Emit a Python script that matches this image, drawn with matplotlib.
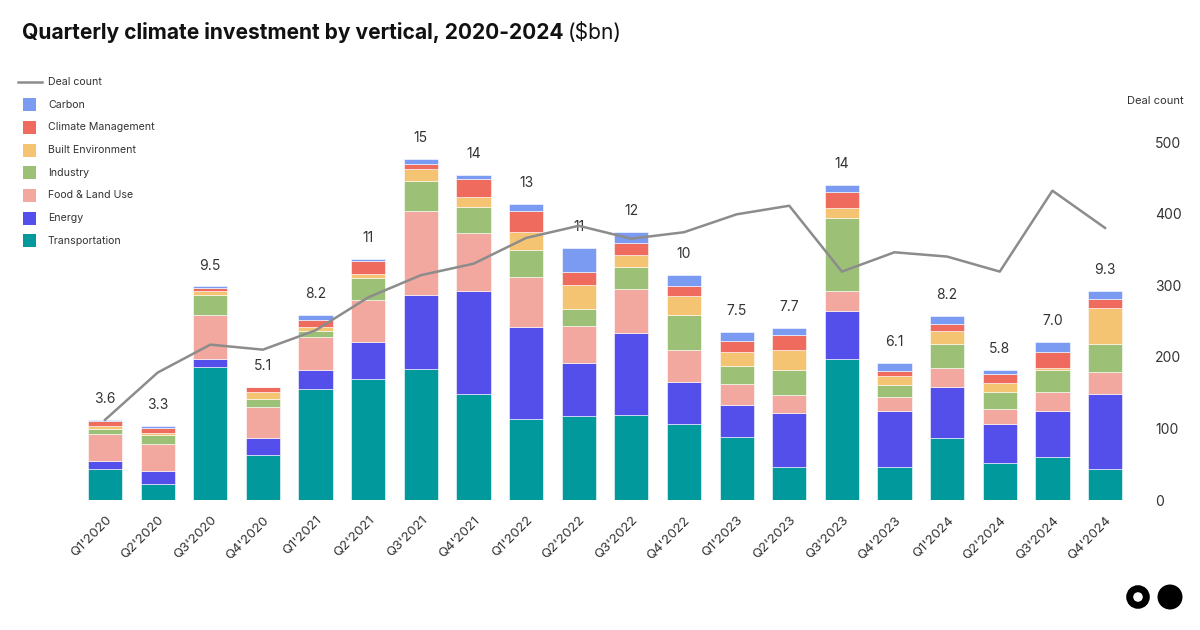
import matplotlib
matplotlib.use("Agg")
import matplotlib.pyplot as plt
from matplotlib.patches import Rectangle, Circle
from matplotlib.lines import Line2D

plt.rcParams['font.family'] = ['Inter', 'DejaVu Sans']

quarters = ["Q1'2020", "Q2'2020", "Q3'2020", "Q4'2020",
            "Q1'2021", "Q2'2021", "Q3'2021", "Q4'2021",
            "Q1'2022", "Q2'2022", "Q3'2022", "Q4'2022",
            "Q1'2023", "Q2'2023", "Q3'2023", "Q4'2023",
            "Q1'2024", "Q2'2024", "Q3'2024", "Q4'2024"]

# $bn per vertical
transportation = [1.38, 0.70, 5.90, 1.99, 4.93, 5.36, 5.81, 4.72, 3.59, 3.75,
                  3.78, 3.36, 2.79, 1.47, 6.27, 1.48, 2.77, 1.64, 1.90, 1.38]
energy = [0.36, 0.59, 0.38, 0.76, 0.83, 1.67, 3.30, 4.58, 4.12, 2.33,
          3.63, 1.88, 1.45, 2.39, 2.13, 2.49, 2.25, 1.72, 2.07, 3.35]
food_land = [1.21, 1.20, 1.96, 1.40, 1.49, 1.85, 3.73, 2.56, 2.18, 1.67,
             1.97, 1.42, 0.92, 0.81, 0.89, 0.61, 0.83, 0.68, 0.82, 0.96]
industry = [0.22, 0.39, 0.88, 0.36, 0.25, 0.99, 1.33, 1.16, 1.23, 0.76,
            0.98, 1.57, 0.81, 1.11, 3.24, 0.55, 1.08, 0.74, 1.00, 1.26]
built_env = [0.12, 0.10, 0.16, 0.28, 0.19, 0.16, 0.53, 0.46, 0.79, 1.04,
             0.52, 0.84, 0.62, 0.88, 0.44, 0.36, 0.56, 0.44, 0.09, 1.59]
climate_mgmt = [0.21, 0.24, 0.12, 0.22, 0.33, 0.59, 0.25, 0.79, 0.95, 0.60,
                0.53, 0.43, 0.48, 0.69, 0.71, 0.24, 0.34, 0.38, 0.70, 0.40]
carbon = [0.06, 0.08, 0.09, 0.03, 0.19, 0.11, 0.22, 0.18, 0.31, 1.07,
          0.50, 0.49, 0.39, 0.31, 0.32, 0.37, 0.34, 0.18, 0.43, 0.34]

total_labels = ["3.6", "3.3", "9.5", "5.1", "8.2", "11", "15", "14", "13", "11",
                "12", "10", "7.5", "7.7", "14", "6.1", "8.2", "5.8", "7.0", "9.3"]

deal_count = [112, 178, 217, 210, 237, 283, 314, 330, 366, 383,
              365, 374, 399, 411, 319, 346, 340, 319, 432, 380]

# stacking order bottom -> top
series = [("Transportation", transportation, "#02999C"),
          ("Energy", energy, "#544FEB"),
          ("Food & Land Use", food_land, "#F2A79F"),
          ("Industry", industry, "#9BC076"),
          ("Built Environment", built_env, "#F5C473"),
          ("Climate Management", climate_mgmt, "#EE6B5D"),
          ("Carbon", carbon, "#7B9AF2")]

fig = plt.figure(figsize=(12, 6.3), dpi=100)
ax = fig.add_axes([0.0656, 0.2063, 0.8772, 0.5683])
ax2 = ax.twinx()

x = list(range(len(quarters)))
bottom = [0.0] * len(quarters)
for name, vals, col in series:
    ax.bar(x, vals, width=0.65, bottom=bottom, color=col,
           edgecolor="white", linewidth=0.4, zorder=2)
    bottom = [b + v for b, v in zip(bottom, vals)]

for xi, top, lab in zip(x, bottom, total_labels):
    ax.annotate(lab, (xi, top), xytext=(0, 10), textcoords="offset points",
                ha="center", va="bottom", fontsize=10, color="#333333")

ax2.plot(x, deal_count, color="#8C8C8C", linewidth=1.8, zorder=5)

ax.set_xlim(-0.5, len(quarters) - 0.5)
ax.set_ylim(0, 15.91)
ax2.set_ylim(0, 500)
ax2.set_yticks([0, 100, 200, 300, 400, 500])
ax.set_yticks([])
ax.set_xticks(x)
ax.set_xticklabels(quarters, rotation=45, ha="right", rotation_mode="anchor",
                   fontsize=9.5, color="#333333")
ax.tick_params(axis="x", length=0, pad=10)
ax2.tick_params(axis="y", length=0, pad=17, labelsize=10, labelcolor="#333333")
for a in (ax, ax2):
    for s in a.spines.values():
        s.set_visible(False)

fig.text(0.9625, 0.84, "Deal count", ha="center", va="center",
         fontsize=8, color="#333333")

# title
t = fig.text(0.018, 0.948, "Quarterly climate investment by vertical, 2020-2024",
             fontsize=15.1, fontweight="bold", color="#111111", va="center")
fig.canvas.draw()
bb = t.get_window_extent()
fig.text(bb.x1 / fig.bbox.width + 0.004, 0.948, "($bn)", fontsize=15.1,
         color="#111111", va="center")

# legend drawn at top left
leg_x = 18 / 1200
txt_x = 48 / 1200
row_h = 22.7 / 630
y0 = 1 - 82 / 630
fig.add_artist(Line2D([leg_x, leg_x + 24 / 1200], [y0, y0],
                      color="#8C8C8C", linewidth=1.8))
fig.text(txt_x, y0, "Deal count", fontsize=7.6, va="center", color="#333333")
for i, (name, vals, col) in enumerate(reversed(series)):
    yy = y0 - (i + 1) * row_h
    fig.add_artist(Rectangle((23 / 1200, yy - 6.5 / 630), 13 / 1200, 13 / 630,
                             facecolor=col, edgecolor="none"))
    fig.text(txt_x, yy, name, fontsize=7.6, va="center", color="#333333")

# logo bottom right
fig.add_artist(Circle((1138, 630 - 597), 8.3, transform=None,
                      facecolor="none", edgecolor="black", linewidth=5.0))
fig.add_artist(Circle((1170, 630 - 597), 12.5, transform=None,
                      facecolor="black", edgecolor="none"))

fig.savefig("out.png", dpi=100, facecolor="white")
